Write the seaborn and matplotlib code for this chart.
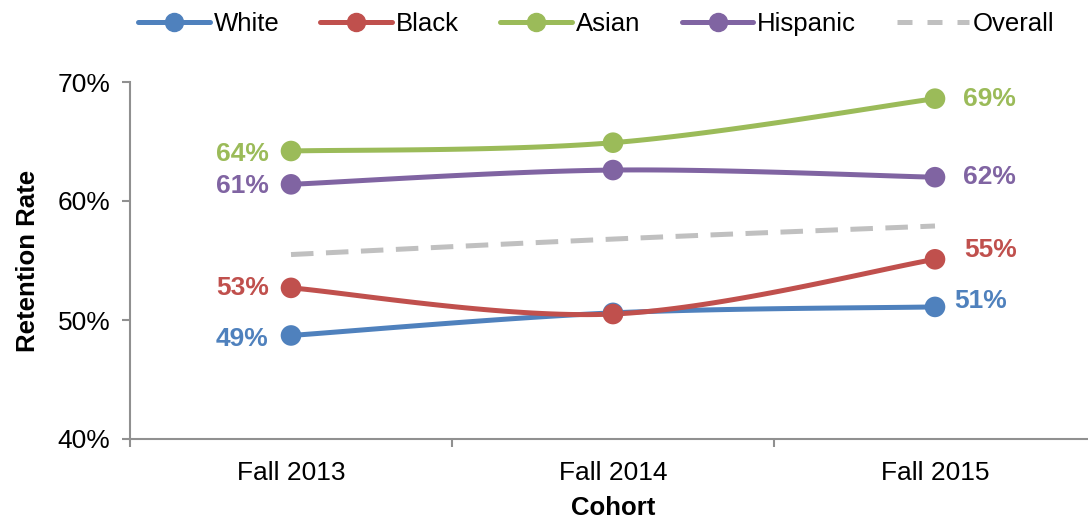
import numpy as np
import pandas as pd
import matplotlib
matplotlib.use("Agg")
import matplotlib.pyplot as plt
from matplotlib.lines import Line2D
import seaborn as sns

cohorts = ["Fall 2013", "Fall 2014", "Fall 2015"]
white = [48.7, 50.6, 51.1]
black = [52.7, 50.5, 55.1]
asian = [64.2, 64.9, 68.6]
hispanic = [61.4, 62.6, 62.0]
overall = [55.5, 56.8, 57.9]

colors = {
    "White": "#4F81BD",
    "Black": "#C0504D",
    "Asian": "#9BBB59",
    "Hispanic": "#8064A2",
    "Overall": "#C0C0C0",
}

sns.set_style("white")
plt.rcParams["font.family"] = ["Liberation Sans", "DejaVu Sans"]
plt.rcParams["text.color"] = "black"
plt.rcParams["axes.labelcolor"] = "black"
plt.rcParams["xtick.color"] = "black"
plt.rcParams["ytick.color"] = "black"


def smooth(y, n=40):
    # Catmull-Rom style curve through the points, similar to Excel's smoothed lines
    y = np.asarray(y, dtype=float)
    x = np.arange(len(y), dtype=float)
    px = np.concatenate([[x[0]], x, [x[-1]]])
    py = np.concatenate([[y[0]], y, [y[-1]]])
    xs, ys = [], []
    for i in range(1, len(px) - 2):
        p0, p1, p2, p3 = px[i - 1], px[i], px[i + 1], px[i + 2]
        q0, q1, q2, q3 = py[i - 1], py[i], py[i + 1], py[i + 2]
        c1x, c1y = p1 + (p2 - p0) / 6, q1 + (q2 - q0) / 6
        c2x, c2y = p2 - (p3 - p1) / 6, q2 - (q3 - q1) / 6
        t = np.linspace(0, 1, n)
        b0, b1, b2, b3 = (1 - t) ** 3, 3 * t * (1 - t) ** 2, 3 * t ** 2 * (1 - t), t ** 3
        xs.append(b0 * p1 + b1 * c1x + b2 * c2x + b3 * p2)
        ys.append(b0 * q1 + b1 * c1y + b2 * c2y + b3 * q2)
    return np.concatenate(xs), np.concatenate(ys)


fig = plt.figure(figsize=(10.88, 5.22), dpi=100)
ax = fig.add_axes([130 / 1088, 1 - 439 / 522, 966 / 1088, 357 / 522])

series = {"White": white, "Black": black, "Asian": asian, "Hispanic": hispanic}
for name, vals in series.items():
    sx, sy = smooth(vals)
    curve = pd.DataFrame({"x": sx, "y": sy})
    sns.lineplot(data=curve, x="x", y="y", ax=ax, color=colors[name], lw=3.6,
                 sort=False, estimator=None, zorder=3)
    pts = pd.DataFrame({"x": np.arange(len(vals)), "y": vals})
    sns.scatterplot(data=pts, x="x", y="y", ax=ax, color=colors[name], s=220,
                    edgecolor="none", zorder=4)

sx, sy = smooth(overall)
sns.lineplot(data=pd.DataFrame({"x": sx, "y": sy}), x="x", y="y", ax=ax,
             color=colors["Overall"], lw=3.6, sort=False, estimator=None,
             zorder=2).lines[-1].set_dashes([4.5, 2.5])

# data labels at first and last points
label_offsets = {
    "White": ((-16, -2.5), (14, 4)),
    "Black": ((-16, 0), (21, 6.5)),
    "Asian": ((-16, -2), (20, 0)),
    "Hispanic": ((-16, -1.5), (20, 0)),
}
for name, vals in series.items():
    (lx, ly), (rx, ry) = label_offsets[name]
    ax.annotate(f"{vals[0]:.0f}%", (0, vals[0]), xytext=(lx, ly),
                textcoords="offset points", ha="right", va="center",
                color=colors[name], fontsize=19, fontweight="bold")
    ax.annotate(f"{vals[-1]:.0f}%", (2, vals[-1]), xytext=(rx, ry),
                textcoords="offset points", ha="left", va="center",
                color=colors[name], fontsize=19, fontweight="bold")

ax.set_xlim(-0.5, 2.5)
ax.set_ylim(40, 70)
ax.set_yticks([40, 50, 60, 70])
ax.set_yticklabels([f"{v}%" for v in [40, 50, 60, 70]], fontsize=19)
ax.set_xticks([0, 1, 2])
ax.set_xticklabels(cohorts, fontsize=19)
ax.set_xticks([-0.5, 0.5, 1.5, 2.5], minor=True)
ax.tick_params(axis="x", which="major", bottom=False, length=0, pad=16)
ax.tick_params(axis="x", which="minor", bottom=True, length=6, color="#909090",
               width=1.5, direction="out")
ax.tick_params(axis="y", left=True, length=6, color="#909090", width=1.5,
               direction="out", pad=8)

for side in ["top", "right"]:
    ax.spines[side].set_visible(False)
for side in ["left", "bottom"]:
    ax.spines[side].set_color("#909090")
    ax.spines[side].set_linewidth(1.5)

ax.set_xlabel("Cohort", fontsize=18.5, fontweight="bold", labelpad=8)
ax.set_ylabel("Retention Rate", fontsize=18.5, fontweight="bold", labelpad=13)

handles = []
for name in ["White", "Black", "Asian", "Hispanic"]:
    handles.append(Line2D([], [], color=colors[name], lw=3.6, marker="o", markersize=13))
handles.append(Line2D([], [], color=colors["Overall"], lw=3.6, dashes=[3, 3]))
fig.legend(handles, ["White", "Black", "Asian", "Hispanic", "Overall"], loc="upper center",
           bbox_to_anchor=(0.548, 1.022), ncol=5, frameon=False, fontsize=18.5,
           handlelength=2.8, handletextpad=0.15, columnspacing=1.6)

fig.savefig("out.png", dpi=100)
